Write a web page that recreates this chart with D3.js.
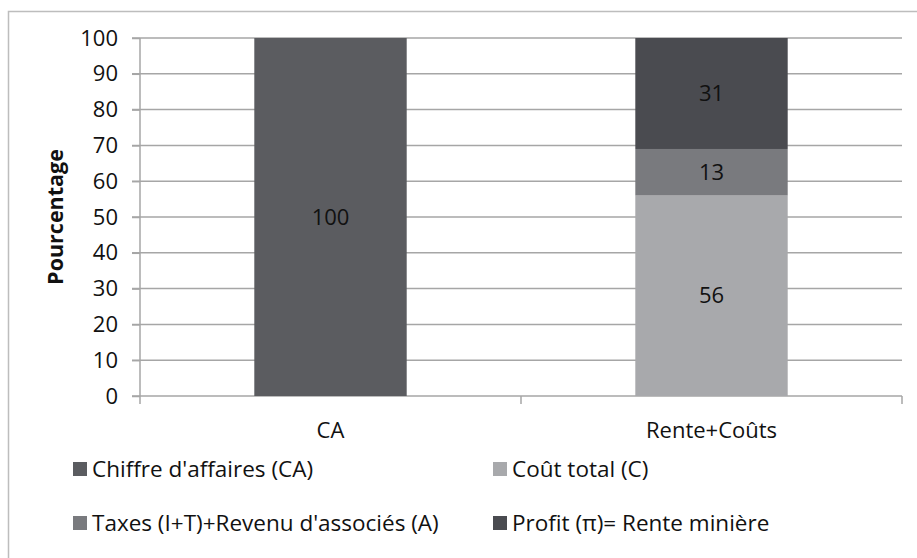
<!DOCTYPE html>
<html><head><meta charset="utf-8">
<script src="https://cdn.jsdelivr.net/npm/d3@7"></script>
<style>body{margin:0;background:#fff;}svg{display:block;font-family:"Open Sans",sans-serif;}</style>
</head><body><svg id="c" width="917" height="558"></svg>
<script>
const categories = ["CA", "Rente+Coûts"];
const seriesNames = ["Chiffre d'affaires (CA)", "Coût total (C)", "Taxes (I+T)+Revenu d'associés (A)", "Profit (π)= Rente minière"];
const seriesColors = ["#5b5c60", "#a8a9ac", "#797a7e", "#4a4b50"];
const caValues = [100, 0];
const coutValues = [0, 56];
const taxesValues = [0, 13];
const profitValues = [0, 31];
const yTicks = [0,10,20,30,40,50,60,70,80,90,100];

const svg = d3.select("#c");
// outer frame
svg.append("path").attr("d","M8.5,558 V11.5 H917").attr("fill","none").attr("stroke","#bdbdbd").attr("stroke-width",1.5);

const x = d3.scaleBand().domain(categories).range([140, 902]).paddingInner(0).paddingOuter(0);
const y = d3.scaleLinear().domain([0,100]).range([396, 38]);

// gridlines
svg.append("g").selectAll("line").data(yTicks).join("line")
  .attr("x1",132).attr("x2",902).attr("y1",d=>y(d)).attr("y2",d=>y(d))
  .attr("stroke","#a6a6a6").attr("stroke-width",1.5);

const seriesVals = [caValues, coutValues, taxesValues, profitValues];
const table = categories.map((c,i)=>{const o={cat:c}; seriesNames.forEach((s,j)=>o[s]=seriesVals[j][i]); return o;});
const stack = d3.stack().keys(seriesNames)(table);
const bw = x.bandwidth()*0.4;
const gBars = svg.append("g");
stack.forEach((layer,j)=>{
  gBars.selectAll(null).data(layer.filter(d=>d[1]-d[0]>0)).join("rect")
    .attr("x",d=>x(d.data.cat)+x.bandwidth()/2-bw/2).attr("width",bw)
    .attr("y",d=>y(d[1])).attr("height",d=>y(d[0])-y(d[1]))
    .attr("fill",seriesColors[j]);
  gBars.selectAll(null).data(layer.filter(d=>d[1]-d[0]>0)).join("text")
    .attr("x",d=>x(d.data.cat)+x.bandwidth()/2).attr("y",d=>(y(d[0])+y(d[1]))/2)
    .attr("dy","0.35em").attr("text-anchor","middle").attr("font-size",22).attr("fill","#111")
    .text(d=>d[1]-d[0]);
});

// y axis
const ya = svg.append("g").attr("transform","translate(140,0)").call(d3.axisLeft(y).tickValues(yTicks).tickSize(8).tickPadding(14));
ya.select(".domain").attr("stroke","#a6a6a6").attr("stroke-width",1.5).attr("d","M0,38V396");
ya.selectAll(".tick line").attr("stroke","#a6a6a6").attr("stroke-width",1.5);
ya.selectAll("text").attr("font-size",22).attr("font-family","Open Sans").attr("fill","#111");

// x axis
const xa = svg.append("g").attr("transform","translate(0,396)").call(d3.axisBottom(x).tickSize(0).tickPadding(26));
xa.select(".domain").remove();
xa.selectAll("text").attr("font-size",22).attr("font-family","Open Sans").attr("fill","#111");
svg.append("g").selectAll("line").data([140, ...categories.map(c=>x(c)+x.bandwidth())]).join("line")
  .attr("x1",d=>d).attr("x2",d=>d).attr("y1",396).attr("y2",404).attr("stroke","#a6a6a6").attr("stroke-width",1.5);

// y title
svg.append("text").attr("transform","translate(63,217) rotate(-90)").attr("text-anchor","middle")
  .attr("font-weight","bold").attr("font-size",21.5).attr("fill","#111").text("Pourcentage");

// legend
const legPos = [[73,469],[493,469],[73,523],[493,523]];
const lg = svg.append("g");
seriesNames.forEach((s,i)=>{
  const [lx,ly]=legPos[i];
  lg.append("rect").attr("x",lx).attr("y",ly-7).attr("width",14).attr("height",14).attr("fill",seriesColors[i]);
  lg.append("text").attr("x",lx+19).attr("y",ly).attr("dy","0.36em").attr("font-size",22.5).attr("fill","#111").text(s);
});
</script></body></html>
